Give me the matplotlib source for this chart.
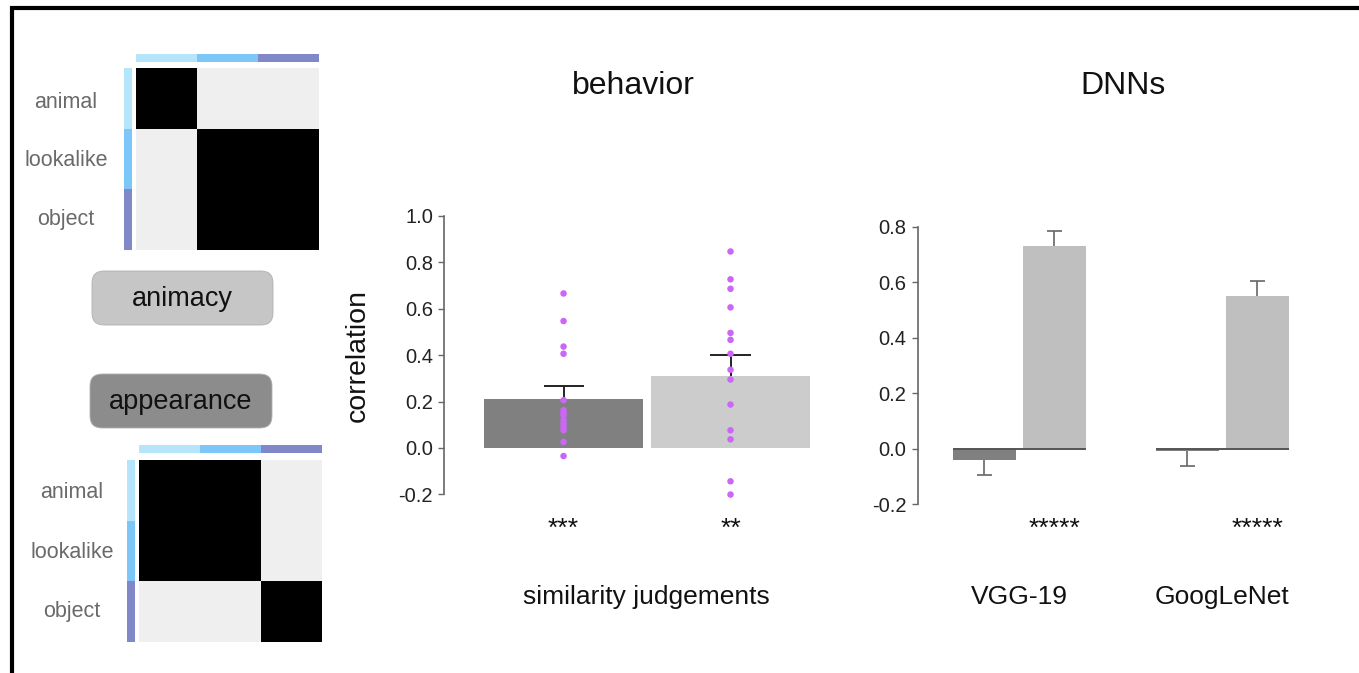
import numpy as np
import matplotlib
matplotlib.use("Agg")
import matplotlib.pyplot as plt
from matplotlib.colors import ListedColormap
from matplotlib.patches import FancyBboxPatch

plt.rcParams['font.family'] = ['Liberation Sans', 'DejaVu Sans']

# ---------------- data ----------------
categories = ["animal", "lookalike", "object"]
category_colors = ["#b5e5fb", "#7cc6f8", "#8188c8"]

# model dissimilarity matrices (1 = same cluster)
animacy_model = [[1, 0, 0],
                 [0, 1, 1],
                 [0, 1, 1]]
appearance_model = [[1, 1, 0],
                    [1, 1, 0],
                    [0, 0, 1]]

# behaviour: similarity judgements
behavior_means = [0.21, 0.31]
behavior_sem = [0.055, 0.09]
behavior_subjects_animacy = [0.666, 0.547, 0.437, 0.406, 0.206, 0.163, 0.151,
                             0.140, 0.119, 0.105, 0.091, 0.076, 0.026, -0.035]
behavior_subjects_appearance = [0.847, 0.727, 0.686, 0.606, 0.496, 0.466, 0.406,
                                0.337, 0.295, 0.187, 0.076, 0.037, -0.144, -0.201]
behavior_stars = ["***", "**"]

# DNNs
dnn_names = ["VGG-19", "GoogLeNet"]
dnn_animacy = [-0.041, -0.007]
dnn_animacy_err = [0.054, 0.055]
dnn_appearance = [0.731, 0.550]
dnn_appearance_err = [0.055, 0.055]
dnn_stars = ["*****", "*****"]

DARK = "#808080"
LIGHT_B = "#cccccc"
LIGHT_D = "#bfbfbf"
DOT = "#cc66f7"

W, H = 1359, 673
fig = plt.figure(figsize=(W / 100, H / 100), dpi=100)


def px_axes(x0, y0, x1, y1, **kw):
    """Axes from pixel box (left, top, right, bottom)."""
    return fig.add_axes([x0 / W, 1 - y1 / H, (x1 - x0) / W, (y1 - y0) / H], **kw)


def one_sided_errorbar(ax, x, y, err, direction, cap_half, color, lw):
    """Stem from the bar end plus a single cap at the far end."""
    x = np.asarray(x, float)
    y = np.asarray(y, float)
    tip = y + direction * np.asarray(err, float)
    ax.vlines(x, y, tip, color=color, lw=lw, zorder=2)
    ax.hlines(tip, x - cap_half, x + cap_half, color=color, lw=lw, zorder=2)


# overlay in pixel coordinates for frame, boxes and free text
over = px_axes(0, 0, W, H, zorder=0)
over.set_xlim(0, W)
over.set_ylim(H, 0)
over.axis("off")

# outer frame (top and left)
over.plot([9.5, W], [8, 8], color="black", lw=3.0, solid_capstyle="butt")
over.plot([11.5, 11.5], [6.5, H], color="black", lw=3.0, solid_capstyle="butt")

# ---------------- model matrices ----------------
mat_cmap = ListedColormap(["#efefef", "#000000"])
strip_cmap = ListedColormap(category_colors)


def draw_model(matrix, box, top_strip, left_strip, label_x, label_ys):
    ax = px_axes(*box)
    ax.imshow(np.array(matrix), cmap=mat_cmap, vmin=0, vmax=1,
              aspect="auto", interpolation="nearest")
    ax.axis("off")
    st = px_axes(*top_strip)
    st.imshow(np.arange(3)[None, :], cmap=strip_cmap, aspect="auto",
              interpolation="nearest")
    st.axis("off")
    sl = px_axes(*left_strip)
    sl.imshow(np.arange(3)[:, None], cmap=strip_cmap, aspect="auto",
              interpolation="nearest")
    sl.axis("off")
    for name, y in zip(categories, label_ys):
        over.text(label_x, y, name, ha="center", va="center",
                  fontsize=15.5, color="#6a6a6a")


draw_model(animacy_model, (136, 68, 319, 250), (136, 54, 319, 62),
           (123.5, 68, 131, 250), 66, [102, 161, 220])
draw_model(appearance_model, (139, 460, 322, 642), (139, 445, 322, 453),
           (126.5, 460, 134, 642), 72, [493, 552, 611])

# rounded model labels
for (x0, y0, x1, y1), text, fc in [((92, 271, 273, 325), "animacy", "#c6c6c6"),
                                   ((90, 374, 272, 428), "appearance", "#8c8c8c")]:
    over.add_patch(FancyBboxPatch((x0, y0), x1 - x0, y1 - y0,
                                  boxstyle="round,pad=0,rounding_size=12",
                                  fc=fc, ec="#b0b0b0", lw=0.6))
    over.text((x0 + x1) / 2, (y0 + y1) / 2 + 1, text, ha="center",
              va="center", fontsize=19.5, color="#111111")

# ---------------- behaviour panel ----------------
axb = px_axes(444, 216, 815, 494.3, zorder=2)
xb = np.array([0, 1])
axb.bar(xb, behavior_means, width=0.952, color=[DARK, LIGHT_B],
        edgecolor="none", zorder=1)
one_sided_errorbar(axb, xb, behavior_means, behavior_sem, +1, 0.12,
                   "#222222", 1.4)
for x, vals in zip(xb, [behavior_subjects_animacy, behavior_subjects_appearance]):
    axb.scatter(np.full(len(vals), x), vals, s=22, color=DOT,
                edgecolor="none", zorder=3, clip_on=False)
for x, s in zip(xb, behavior_stars):
    axb.text(x, -0.35, s, ha="center", va="center", fontsize=19,
             color="#111111", clip_on=False)
axb.set_xlim(-0.716, 1.506)
axb.set_ylim(-0.2, 1.0)
axb.set_yticks(np.arange(-0.2, 1.01, 0.2))
axb.set_yticklabels(["-0.2", "0.0", "0.2", "0.4", "0.6", "0.8", "1.0"])
axb.set_xticks([])
for sp in ["top", "right", "bottom"]:
    axb.spines[sp].set_visible(False)
axb.spines["left"].set_color("#666666")
axb.spines["left"].set_linewidth(1.2)
axb.tick_params(axis="y", length=4, width=1.0, color="#666666",
                labelsize=14.5, labelcolor="#222222", pad=4)
axb.patch.set_alpha(0)
axb.set_ylabel("correlation", fontsize=20.5, labelpad=20, color="#111111")

fig.text(633 / W, 1 - 86 / H, "behavior", ha="center", va="center",
         fontsize=23, color="#111111")
fig.text(646 / W, 1 - 597 / H, "similarity judgements", ha="center",
         va="center", fontsize=19, color="#111111")

# ---------------- DNN panel ----------------
axd = px_axes(917.7, 226.7, 1300, 504.3, zorder=2)
xg = np.arange(len(dnn_names))
off = 0.1724
bw = 0.313
axd.bar(xg - off, dnn_animacy, width=bw, color=DARK, edgecolor="none", zorder=1)
axd.bar(xg + off, dnn_appearance, width=bw, color=LIGHT_D, edgecolor="none", zorder=1)
one_sided_errorbar(axd, xg - off, dnn_animacy, dnn_animacy_err, -1, 0.037,
                   "#666666", 1.2)
one_sided_errorbar(axd, xg + off, dnn_appearance, dnn_appearance_err, +1, 0.037,
                   "#666666", 1.2)
axd.hlines(np.zeros(len(xg)), xg - off - bw / 2, xg + off + bw / 2,
           color="#555555", lw=1.4, zorder=3)
for x, s in zip(xg + off, dnn_stars):
    axd.text(x, -0.29, s, ha="center", va="center", fontsize=19,
             color="#111111", clip_on=False)
axd.set_xlim(-0.501, 1.382)
axd.set_ylim(-0.2, 0.8)
axd.set_yticks(np.arange(-0.2, 0.81, 0.2))
axd.set_yticklabels(["-0.2", "0.0", "0.2", "0.4", "0.6", "0.8"])
axd.set_xticks([])
for sp in ["top", "right", "bottom"]:
    axd.spines[sp].set_visible(False)
axd.spines["left"].set_color("#666666")
axd.spines["left"].set_linewidth(1.2)
axd.tick_params(axis="y", length=4, width=1.0, color="#666666",
                labelsize=14.5, labelcolor="#222222", pad=4)
axd.patch.set_alpha(0)

fig.text(1123 / W, 1 - 86 / H, "DNNs", ha="center", va="center",
         fontsize=23, color="#111111")
for x, name in zip(xg, dnn_names):
    xp = 1019.4 + 203 * x
    fig.text(xp / W, 1 - 597 / H, name, ha="center", va="center",
             fontsize=19, color="#111111")

fig.savefig("out.png", dpi=100, facecolor="white")
